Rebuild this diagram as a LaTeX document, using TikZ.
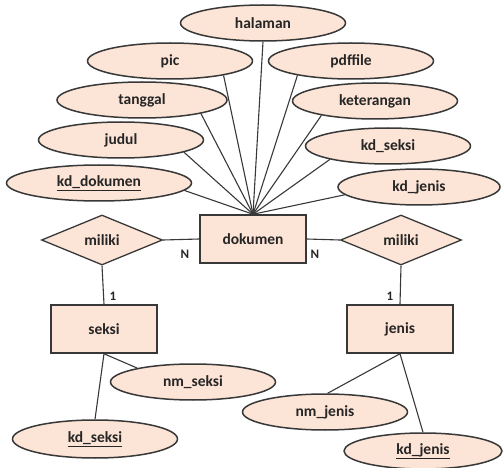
\documentclass[tikz,border=0pt]{standalone}
\usepackage{fontspec}
\setmainfont{Carlito}
\usetikzlibrary{shapes.geometric}
\definecolor{erfill}{HTML}{FCE4D6}
\definecolor{erline}{HTML}{383838}
\tikzset{
  every node/.style={font=\fontsize{15.5}{18}\selectfont\bfseries, text=black!85},
  attr/.style={ellipse, draw=erline, fill=erfill, line width=1.5pt, inner sep=0pt,
               minimum width=165pt, minimum height=36pt},
  entity/.style={rectangle, draw=erline, fill=erfill, line width=1.5pt, inner sep=0pt,
                 minimum width=106pt, minimum height=48pt},
  rel/.style={diamond, draw=erline, fill=erfill, line width=1.3pt, inner sep=0pt,
              minimum width=121pt, minimum height=50pt},
  link/.style={draw=erline, line width=1.1pt},
  card/.style={inner sep=0pt, font=\fontsize{13}{15}\selectfont\bfseries}
}
\begin{document}
\begin{tikzpicture}[x=1pt, y=-1pt]
  \useasboundingbox (0,0) rectangle (504,468);

  % entities
  \node[entity] (dok) at (253,239) {dokumen};
  \node[entity] (seksi) at (104,329) {seksi};
  \node[entity] (jenis) at (400,329) {jenis};

  % relationships
  \node[rel] (relL) at (102,240) {miliki};
  \node[rel] (relR) at (401,240) {miliki};

  % attributes of dokumen
  \node[attr] (halaman) at (263,23) {halaman};
  \node[attr] (pic) at (170,61) {pic};
  \node[attr] (pdffile) at (351,61) {pdffile};
  \node[attr, minimum width=170pt] (tanggal) at (142,100) {tanggal};
  \node[attr] (keterangan) at (375,101) {keterangan};
  \node[attr] (judul) at (121,140) {judul};
  \node[attr] (kdseksiA) at (388,146) {kd\_seksi};
  \node[attr, minimum width=185pt] (kddok) at (99,183) {\underline{kd\_dokumen}};
  \node[attr, minimum width=162pt] (kdjenisA) at (419,187) {kd\_jenis};

  % attributes of seksi and jenis
  \node[attr] (nmseksi) at (193,382) {nm\_seksi};
  \node[attr, minimum height=38pt] (kdseksiB) at (95,439) {\underline{kd\_seksi}};
  \node[attr] (nmjenis) at (325,412) {nm\_jenis};
  \node[attr, minimum width=158pt] (kdjenisB) at (423,451) {\underline{kd\_jenis}};

  % attribute links
  \draw[link] (dok.north) -- (halaman.south);
  \draw[link] (dok.north) -- (pic.-15);
  \draw[link] (dok.north) -- (pdffile.195);
  \draw[link] (dok.north) -- (tanggal.-13);
  \draw[link] (dok.north) -- (keterangan.195);
  \draw[link] (dok.north) -- (judul.-11);
  \draw[link] (dok.north) -- (kdseksiA.193);
  \draw[link] (dok.north) -- (kddok.-5);
  \draw[link] (dok.north) -- (kdjenisA.186);

  \draw[link] (seksi.south) -- (nmseksi.166);
  \draw[link] (seksi.south) -- (kdseksiB.north);
  \draw[link] (jenis.south) -- (nmjenis.82);
  \draw[link] (jenis.south) -- (kdjenisB.north);

  % relationship links
  \draw[link] (relL.east) -- (dok.west);
  \draw[link] (dok.east) -- (relR.west);
  \draw[link] (relL.south) -- (seksi.north);
  \draw[link] (relR.south) -- (jenis.north);

  % cardinalities
  \node[card] (nL) at (185,254) {N};
  \node[card] (nR) at (315,254) {N};
  \node[card] (oneL) at (113,296) {1};
  \node[card] (oneR) at (390,296) {1};
\end{tikzpicture}
\end{document}
